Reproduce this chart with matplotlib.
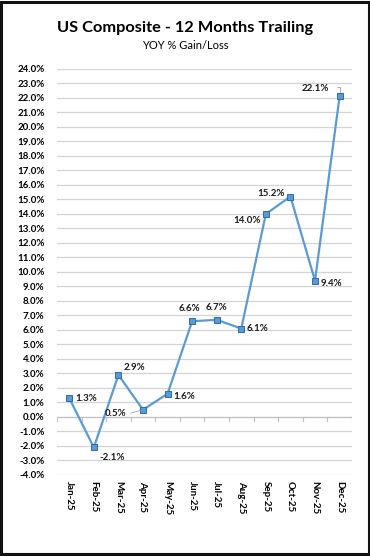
import matplotlib.pyplot as plt
import numpy as np
from matplotlib.patches import Rectangle

months = ["Jan-25", "Feb-25", "Mar-25", "Apr-25", "May-25", "Jun-25",
          "Jul-25", "Aug-25", "Sep-25", "Oct-25", "Nov-25", "Dec-25"]
yoy = [1.3, -2.1, 2.9, 0.5, 1.6, 6.6, 6.7, 6.1, 14.0, 15.2, 9.4, 22.1]
# label offsets in points (dx, dy) and horizontal alignment
label_pos = [(4, 0, "left"), (4, -7, "left"), (4, 5, "left"), (-12, -3, "right"),
             (4, -2, "left"), (-2, 9, "center"), (0, 9, "center"), (4, 0, "left"),
             (-4, -5, "right"), (-4, 2, "right"), (4, -2, "left"), (-8, 6, "right")]

plt.rcParams['font.family'] = ['Lato', 'DejaVu Sans']

fig = plt.figure(figsize=(3.7, 5.56), dpi=100)
ax = fig.add_axes([0.154, 0.1457, 0.797, 0.7303])

x = np.arange(len(months))
ax.plot(x, yoy, color="#5B9BD5", lw=1.6, marker="s", ms=5,
        mfc="#5B9BD5", mec="#2E6CA4", mew=0.7, zorder=3)

for xi, v, (dx, dy, ha) in zip(x, yoy, label_pos):
    ax.annotate("%.1f%%" % v, (xi, v), xytext=(dx, dy), textcoords="offset points",
                ha=ha, va="center", fontsize=7, fontweight="bold", color="#1a1a1a")

# leader lines for Apr and Dec
ax.annotate("", (3, 0.5), xytext=(-11, -3), textcoords="offset points",
            arrowprops=dict(arrowstyle="-", color="#A6A6A6", lw=0.6))
ax.plot([11, 11, 10.88], [22.1, 22.75, 22.75], color="#A6A6A6", lw=0.6, zorder=2)

ax.set_xlim(-0.5, 11.5)
ax.set_ylim(-4, 24)
ax.set_yticks(np.arange(-4, 25, 1))
ax.set_yticklabels(["%.1f%%" % t for t in np.arange(-4, 25, 1)],
                   fontsize=7, fontweight="bold")
ax.grid(axis="y", color="#D4D4D4", lw=0.9)
ax.set_axisbelow(True)
ax.tick_params(axis="y", length=0, pad=9)

ax.set_xticks(x)
ax.set_xticklabels(months, rotation=270, fontsize=7, fontweight="bold")
ax.tick_params(axis="x", length=0, pad=4)
for s in ax.spines.values():
    s.set_visible(False)

# zero axis line with category tick marks
ax.axhline(0, color="#BFBFBF", lw=0.8, zorder=1)
for b in np.arange(-0.5, 12, 1):
    ax.plot([b, b], [0, -0.25], color="#BFBFBF", lw=0.8, zorder=1)

fig.text(0.5, 0.949, "US Composite - 12 Months Trailing", ha="center", va="center",
         fontsize=11.8, fontweight="bold")
fig.text(0.5, 0.919, "YOY % Gain/Loss", ha="center", va="center", fontsize=8)

fig.patches.append(Rectangle((0.004, 0.003), 0.992, 0.994, transform=fig.transFigure,
                             fill=False, ec="#111111", lw=2.2))

fig.savefig("out.png", dpi=100)
